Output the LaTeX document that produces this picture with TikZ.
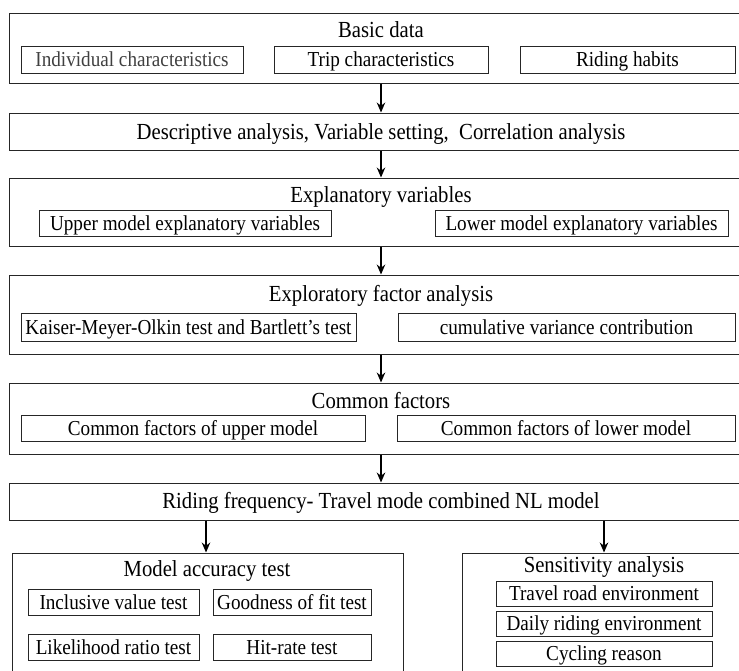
\documentclass[tikz,border=0pt]{standalone}
\usepackage{fontspec}
\setmainfont[FakeStretch=0.9]{Liberation Serif}
\usetikzlibrary{fit,arrows.meta}
\begin{document}
\begin{tikzpicture}[x=1pt,y=-1pt,
  outerbox/.style={draw=black!85, line width=1pt, inner sep=0pt},
  subbox/.style={draw=black!85, line width=0.9pt, inner sep=0pt},
  ttl/.style={font=\fontsize{23}{26}\selectfont, inner sep=0pt, anchor=base, yshift=-7.5pt},
  sub/.style={font=\fontsize{21.3}{23}\selectfont, inner sep=0pt, anchor=base, yshift=-7pt},
  arr/.style={draw=black, line width=1.2pt, -{Stealth[length=10pt,width=8.5pt]}}]
\useasboundingbox (0,0) rectangle (739,670);
\clip (0,0) rectangle (739,670);
\coordinate (ax) at (381,0);
\coordinate (al) at (206,0);
\coordinate (ar) at (604,0);
% box 1
\node[outerbox, fit={(9,13) (760,83)}] (b1) {};
\node[ttl] (t1) at (381,30) {Basic data};
\node[subbox, fit={(21,46) (243,73)}] (s11) {};
\node[sub, text=black!75] at (s11) {Individual characteristics};
\node[subbox, fit={(274,46) (488,73)}] (s12) {};
\node[sub] at (s12) {Trip characteristics};
\node[subbox, fit={(520,46) (735,73)}] (s13) {};
\node[sub] at (s13) {Riding habits};
% box 2
\node[outerbox, fit={(9,113) (760,150)}] (b2) {};
\node[ttl] (t2) at (381,131.5) {Descriptive analysis, Variable setting,\ \ Correlation analysis};
% box 3
\node[outerbox, fit={(9,178) (760,246)}] (b3) {};
\node[ttl] (t3) at (381,195) {Explanatory variables};
\node[subbox, fit={(39,210) (331,236)}] (s31) {};
\node[sub] at (s31) {Upper model explanatory variables};
\node[subbox, fit={(435,210) (728,236)}] (s32) {};
\node[sub] at (s32) {Lower model explanatory variables};
% box 4
\node[outerbox, fit={(9,275) (760,354)}] (b4) {};
\node[ttl] (t4) at (381,294) {Exploratory factor analysis};
\node[subbox, fit={(21,313) (356,341)}] (s41) {};
\node[sub] at (s41) {Kaiser-Meyer-Olkin test and Bartlett's test};
\node[subbox, fit={(398,313) (735,341)}] (s42) {};
\node[sub] at (s42) {cumulative variance contribution};
% box 5
\node[outerbox, fit={(9,383) (760,454)}] (b5) {};
\node[ttl] (t5) at (381,401) {Common factors};
\node[subbox, fit={(21,415) (365,441)}] (s51) {};
\node[sub] at (s51) {Common factors of upper model};
\node[subbox, fit={(397,415) (735,441)}] (s52) {};
\node[sub] at (s52) {Common factors of lower model};
% box 6
\node[outerbox, fit={(9,483) (760,520)}] (b6) {};
\node[ttl] (t6) at (381,501) {Riding frequency- Travel mode combined NL model};
% left bottom box
\node[outerbox, fit={(12,553) (403,700)}] (b7) {};
\node[ttl] (t7) at (207,569) {Model accuracy test};
\node[subbox, fit={(28,589) (199,615)}] (s71) {};
\node[sub] at (s71) {Inclusive value test};
\node[subbox, fit={(213,589) (371,615)}] (s72) {};
\node[sub] at (s72) {Goodness of fit test};
\node[subbox, fit={(28,634) (199,660)}] (s73) {};
\node[sub] at (s73) {Likelihood ratio test};
\node[subbox, fit={(213,634) (371,660)}] (s74) {};
\node[sub] at (s74) {Hit-rate test};
% right bottom box
\node[outerbox, fit={(462,553) (760,700)}] (b8) {};
\node[ttl] (t8) at (604,565) {Sensitivity analysis};
\node[subbox, fit={(496,581) (712,606)}] (s81) {};
\node[sub] at (s81) {Travel road environment};
\node[subbox, fit={(496,611) (712,636)}] (s82) {};
\node[sub] at (s82) {Daily riding environment};
\node[subbox, fit={(496,641) (712,666)}] (s83) {};
\node[sub] at (s83) {Cycling reason};
% arrows
\draw[arr] (b1.south -| ax) -- (b2.north -| ax);
\draw[arr] (b2.south -| ax) -- (b3.north -| ax);
\draw[arr] (b3.south -| ax) -- (b4.north -| ax);
\draw[arr] (b4.south -| ax) -- (b5.north -| ax);
\draw[arr] (b5.south -| ax) -- (b6.north -| ax);
\draw[arr] (b6.south -| al) -- (b7.north -| al);
\draw[arr] (b6.south -| ar) -- (b8.north -| ar);
\end{tikzpicture}
\end{document}
